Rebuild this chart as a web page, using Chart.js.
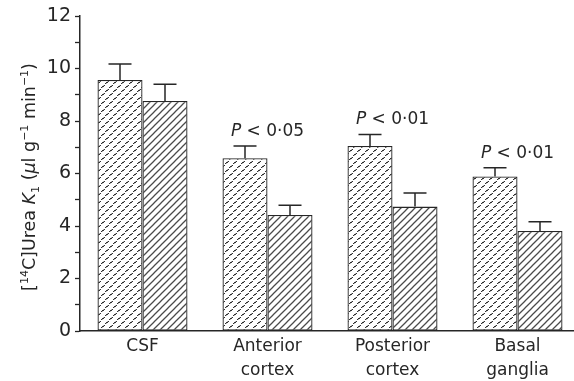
<!DOCTYPE html>
<html>
<head>
<meta charset="utf-8">
<script src="https://cdn.jsdelivr.net/npm/chart.js@4.4.0/dist/chart.umd.min.js"></script>
<style>
  html, body { margin: 0; padding: 0; background: #fff; overflow: hidden; }
  #wrap { width: 590px; height: 381px; }
</style>
</head>
<body>
<div id="wrap"><canvas id="chart" width="590" height="381"></canvas></div>
<script>
// Data
const regions = [["CSF"], ["Anterior", "cortex"], ["Posterior", "cortex"], ["Basal", "ganglia"]];
const dottedValues = [9.56, 6.58, 7.05, 5.89];
const dottedErrors = [0.61, 0.47, 0.44, 0.33];
const hatchedValues = [8.76, 4.42, 4.74, 3.81];
const hatchedErrors = [0.64, 0.37, 0.52, 0.35];
const pLabels = ["", "0·05", "0·01", "0·01"];
const yTicks = [0, 2, 4, 6, 8, 10, 12];

const INK = "#262626";
const FONT = "'DejaVu Sans', sans-serif";

// --- fill patterns ---
function dottedPattern() {
  const w = 8, h = 8;
  const c = document.createElement("canvas");
  c.width = w; c.height = h;
  const g = c.getContext("2d");
  g.fillStyle = "#fff";
  g.fillRect(0, 0, w, h);
  g.fillStyle = "#333";
  // tiny staircase dashes, staggered
  const mark = (x, y) => {
    g.fillRect(x, y + 2, 1, 1);
    g.fillRect(x + 1, y + 1, 2, 1);
    g.fillRect(x + 3, y, 1, 1);
    g.globalAlpha = 0.4;
    g.fillRect(x + 1, y + 2, 1, 1);
    g.fillRect(x + 2, y, 1, 1);
    g.globalAlpha = 1;
  };
  mark(1, 1);
  mark(5, 5);
  mark(-3, 5);
  return g.createPattern(c, "repeat");
}

function hatchPattern() {
  const s = 7;
  const c = document.createElement("canvas");
  c.width = s; c.height = s;
  const g = c.getContext("2d");
  g.fillStyle = "#fff";
  g.fillRect(0, 0, s, s);
  g.strokeStyle = "#4a4a4a";
  g.lineWidth = 1.25;
  g.beginPath();
  g.moveTo(-1, s + 1); g.lineTo(s + 1, -1);
  g.moveTo(-1, 1); g.lineTo(1, -1);
  g.moveTo(s - 1, s + 1); g.lineTo(s + 1, s - 1);
  g.stroke();
  return g.createPattern(c, "repeat");
}

// --- error bars (upward only) ---
const errorBars = {
  id: "errorBars",
  afterDatasetsDraw(chart) {
    const ctx = chart.ctx;
    const y = chart.scales.y;
    ctx.save();
    ctx.strokeStyle = INK;
    ctx.lineWidth = 1.5;
    chart.data.datasets.forEach((ds, i) => {
      const meta = chart.getDatasetMeta(i);
      meta.data.forEach((bar, j) => {
        const top = y.getPixelForValue(ds.data[j] + ds.errors[j]);
        ctx.beginPath();
        ctx.moveTo(bar.x, bar.y);
        ctx.lineTo(bar.x, top);
        ctx.moveTo(bar.x - 11.5, top);
        ctx.lineTo(bar.x + 11.5, top);
        ctx.stroke();
      });
    });
    ctx.restore();
  },
};

// --- P value annotations above each group ---
const pValues = {
  id: "pValues",
  afterDraw(chart) {
    const ctx = chart.ctx;
    const x = chart.scales.x, y = chart.scales.y;
    ctx.save();
    ctx.fillStyle = INK;
    ctx.textBaseline = "alphabetic";
    ctx.textAlign = "left";
    pLabels.forEach((lab, j) => {
      if (!lab) return;
      const rest = " < " + lab;
      ctx.font = "italic 17px " + FONT;
      const wP = ctx.measureText("P").width;
      ctx.font = "17px " + FONT;
      const wR = ctx.measureText(rest).width;
      const cx = x.getPixelForValue(j);
      const base = y.getPixelForValue(dottedValues[j] + dottedErrors[j]) - 10;
      const left = cx - (wP + wR) / 2;
      ctx.font = "italic 17px " + FONT;
      ctx.fillText("P", left, base);
      ctx.font = "17px " + FONT;
      ctx.fillText(rest, left + wP, base);
    });
    ctx.restore();
  },
};

// --- y axis title with italics, super- and subscripts ---
const yTitle = {
  id: "yTitle",
  afterDraw(chart) {
    const ctx = chart.ctx;
    const parts = [
      { t: "[", f: "" },
      { t: "14", f: "", sup: true },
      { t: "C]Urea ", f: "" },
      { t: "K", f: "italic " },
      { t: "1", f: "", sub: true },
      { t: " (", f: "" },
      { t: "µ", f: "italic " },
      { t: "l g", f: "" },
      { t: "−1", f: "", sup: true },
      { t: " min", f: "" },
      { t: "−1", f: "", sup: true },
      { t: ")", f: "" },
    ];
    const fontOf = (p) => p.f + ((p.sup || p.sub) ? 11 : 17.5) + "px " + FONT;
    let total = 0;
    parts.forEach((p) => { ctx.font = fontOf(p); p.w = ctx.measureText(p.t).width; total += p.w; });
    ctx.save();
    ctx.translate(35, 177);
    ctx.rotate(-Math.PI / 2);
    ctx.fillStyle = INK;
    ctx.textBaseline = "alphabetic";
    ctx.textAlign = "left";
    let px = -total / 2;
    parts.forEach((p) => {
      ctx.font = fontOf(p);
      const dy = p.sup ? -7 : p.sub ? 4 : 0;
      ctx.fillText(p.t, px, dy);
      px += p.w;
    });
    ctx.restore();
  },
};

new Chart(document.getElementById("chart"), {
  type: "bar",
  data: {
    labels: regions,
    datasets: [
      {
        data: dottedValues,
        errors: dottedErrors,
        backgroundColor: dottedPattern(),
        borderColor: INK,
        borderWidth: 1.3,
        borderSkipped: false,
      },
      {
        data: hatchedValues,
        errors: hatchedErrors,
        backgroundColor: hatchPattern(),
        borderColor: INK,
        borderWidth: 1.3,
        borderSkipped: false,
      },
    ],
  },
  options: {
    responsive: false,
    animation: false,
    devicePixelRatio: 1,
    categoryPercentage: 0.72,
    barPercentage: 1.0,
    layout: { padding: { left: 0, right: 10, top: 16, bottom: 0 } },
    plugins: {
      legend: { display: false },
      tooltip: { enabled: false },
    },
    scales: {
      x: {
        grid: { display: false, drawTicks: false },
        border: { display: true, color: INK, width: 1.5 },
        ticks: {
          color: INK,
          font: { family: FONT, size: 17, lineHeight: 1.38 },
          padding: 4,
          maxRotation: 0,
        },
        afterFit(scale) { scale.height = 50; },
      },
      y: {
        min: 0,
        max: 12,
        grid: { display: true, drawOnChartArea: false, drawTicks: true, tickLength: 5, color: INK, tickWidth: 1.3 },
        border: { display: true, color: INK, width: 1.5 },
        ticks: {
          stepSize: 1,
          color: INK,
          font: { family: FONT, size: 19 },
          padding: 4,
          callback: (v) => (yTicks.includes(v) ? String(v) : ""),
        },
        afterFit(scale) { scale.width = 80; },
      },
    },
  },
  plugins: [errorBars, pValues, yTitle],
});
</script>
</body>
</html>
